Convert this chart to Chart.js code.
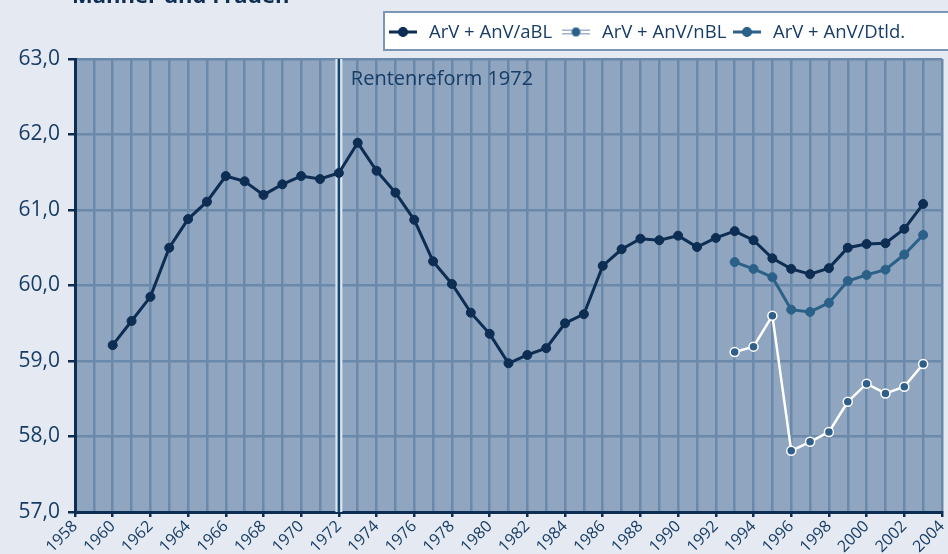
<!DOCTYPE html>
<html>
<head>
<meta charset="utf-8">
<script src="https://cdn.jsdelivr.net/npm/chart.js@4/dist/chart.umd.min.js"></script>
<style>
  html, body { margin: 0; padding: 0; background: #e5e9f1; overflow: hidden; }
  #wrap { width: 948px; height: 554px; position: relative; }
</style>
</head>
<body>
<div id="wrap"><canvas id="chart" width="948" height="554"></canvas></div>
<script>
  // Daten (Rentenzugangsalter, Männer und Frauen)
  const jahreABL = [1960,1961,1962,1963,1964,1965,1966,1967,1968,1969,1970,1971,1972,1973,1974,1975,1976,1977,1978,1979,1980,1981,1982,1983,1984,1985,1986,1987,1988,1989,1990,1991,1992,1993,1994,1995,1996,1997,1998,1999,2000,2001,2002,2003];
  const werteABL = [59.21,59.53,59.85,60.50,60.88,61.11,61.45,61.38,61.20,61.34,61.45,61.41,61.49,61.89,61.52,61.23,60.87,60.32,60.02,59.64,59.36,58.97,59.08,59.17,59.50,59.62,60.26,60.48,60.62,60.60,60.66,60.51,60.63,60.72,60.60,60.36,60.22,60.15,60.23,60.50,60.55,60.56,60.75,61.08];

  const jahreNeu = [1993,1994,1995,1996,1997,1998,1999,2000,2001,2002,2003];
  const werteNBL = [59.12,59.19,59.60,57.81,57.93,58.06,58.46,58.70,58.57,58.66,58.96];
  const werteDtld = [60.31,60.22,60.11,59.68,59.65,59.77,60.06,60.14,60.21,60.41,60.67];

  const yTicks = [57,58,59,60,61,62,63];
  const reformJahr = 1972;

  const dunkel = "#0d2d53";
  const mittel = "#2b6188";
  const schrift = "Open Sans, DejaVu Sans, sans-serif";

  const toPts = (xs, ys) => xs.map((x, i) => ({ x: x, y: ys[i] }));

  // Hintergrund Plotfläche + Titel + Reformlinie + Legende
  const deko = {
    id: "deko",
    beforeDraw(chart) {
      const { ctx, chartArea: a } = chart;
      ctx.save();
      ctx.fillStyle = "#8fa5c0";
      ctx.fillRect(a.left, a.top, a.right - a.left, a.bottom - a.top);
      // Titel (oben abgeschnitten)
      ctx.fillStyle = dunkel;
      ctx.font = "bold 22px " + schrift;
      ctx.textBaseline = "alphabetic";
      ctx.fillText("Männer und Frauen", 72, 3);
      ctx.restore();
    },
    beforeDatasetsDraw(chart) {
      const { ctx, chartArea: a, scales } = chart;
      const x = scales.x.getPixelForValue(reformJahr);
      ctx.save();
      ctx.strokeStyle = "#dde5ef";
      ctx.lineWidth = 7;
      ctx.beginPath(); ctx.moveTo(x, a.top); ctx.lineTo(x, a.bottom); ctx.stroke();
      ctx.strokeStyle = "#134670";
      ctx.lineWidth = 2.5;
      ctx.beginPath(); ctx.moveTo(x, a.top); ctx.lineTo(x, a.bottom); ctx.stroke();
      ctx.fillStyle = "#173d66";
      ctx.font = "20px " + schrift;
      ctx.textBaseline = "middle";
      ctx.fillText("Rentenreform 1972", x + 12, a.top + 20);
      ctx.restore();
    },
    afterDraw(chart) {
      const { ctx } = chart;
      ctx.save();
      // Legendenkasten
      ctx.fillStyle = "#ffffff";
      ctx.fillRect(384, 12, 580, 38);
      ctx.strokeStyle = "#7d96b6";
      ctx.lineWidth = 2;
      ctx.strokeRect(384, 12, 580, 38);
      const items = [
        { x: 389, label: "ArV + AnV/aBL", line: dunkel, fill: dunkel, border: dunkel, doppel: false },
        { x: 562, label: "ArV + AnV/nBL", line: "#ffffff", fill: mittel, border: "#ffffff", doppel: true },
        { x: 733, label: "ArV + AnV/Dtld.", line: mittel, fill: mittel, border: mittel, doppel: false }
      ];
      const cy = 32;
      ctx.font = "18.5px " + schrift;
      ctx.textBaseline = "middle";
      items.forEach(it => {
        if (it.doppel) {
          ctx.strokeStyle = "#9fb3cb";
          ctx.lineWidth = 5;
          ctx.beginPath(); ctx.moveTo(it.x, cy); ctx.lineTo(it.x + 28, cy); ctx.stroke();
          ctx.strokeStyle = "#ffffff";
          ctx.lineWidth = 2;
          ctx.beginPath(); ctx.moveTo(it.x, cy); ctx.lineTo(it.x + 28, cy); ctx.stroke();
        } else {
          ctx.strokeStyle = it.line;
          ctx.lineWidth = 3;
          ctx.beginPath(); ctx.moveTo(it.x, cy); ctx.lineTo(it.x + 28, cy); ctx.stroke();
        }
        ctx.beginPath();
        ctx.arc(it.x + 14, cy, 4.5, 0, Math.PI * 2);
        ctx.fillStyle = it.fill;
        ctx.fill();
        ctx.strokeStyle = it.doppel ? "#9fb3cb" : it.border;
        ctx.lineWidth = 1.2;
        ctx.stroke();
        ctx.fillStyle = "#173d66";
        ctx.fillText(it.label, it.x + 40, cy + 1);
      });
      ctx.restore();
    }
  };

  new Chart(document.getElementById("chart"), {
    type: "line",
    data: {
      datasets: [
        {
          label: "ArV + AnV/aBL",
          data: toPts(jahreABL, werteABL),
          borderColor: dunkel,
          borderWidth: 3,
          pointRadius: 4.5,
          pointBackgroundColor: dunkel,
          pointBorderColor: dunkel,
          pointBorderWidth: 1
        },
        {
          label: "ArV + AnV/Dtld.",
          data: toPts(jahreNeu, werteDtld),
          borderColor: mittel,
          borderWidth: 3,
          pointRadius: 4.5,
          pointBackgroundColor: mittel,
          pointBorderColor: mittel,
          pointBorderWidth: 1
        },
        {
          label: "ArV + AnV/nBL",
          data: toPts(jahreNeu, werteNBL),
          borderColor: "#ffffff",
          borderWidth: 2.5,
          pointRadius: 4.5,
          pointBackgroundColor: "#2f5e88",
          pointBorderColor: "#ffffff",
          pointBorderWidth: 1.5
        }
      ]
    },
    options: {
      responsive: false,
      animation: false,
      devicePixelRatio: 1,
      layout: { padding: { top: 59, right: 3, left: 0, bottom: 0 } },
      plugins: { legend: { display: false }, tooltip: { enabled: false } },
      scales: {
        x: {
          type: "linear",
          min: 1958,
          max: 2004,
          afterFit: s => { s.height = 42; s.paddingLeft = 0; s.paddingRight = 0; },
          border: { color: dunkel, width: 3 },
          grid: {
            color: "#6b8aab",
            lineWidth: 2.5,
            drawTicks: true,
            tickLength: 5,
            tickColor: c => (c.tick && c.tick.value % 2 === 0) ? dunkel : "rgba(0,0,0,0)",
            tickWidth: 2.5
          },
          ticks: {
            stepSize: 1,
            autoSkip: false,
            minRotation: 45,
            maxRotation: 45,
            padding: 0,
            color: "#173d66",
            font: { family: schrift, size: 16 },
            callback: v => (v % 2 === 0) ? String(v) : ""
          }
        },
        y: {
          min: 57,
          max: 63,
          afterFit: s => { s.width = 75; s.paddingTop = 0; s.paddingBottom = 0; },
          border: { color: dunkel, width: 3 },
          grid: {
            color: "#6b8aab",
            lineWidth: 2.5,
            tickLength: 7,
            tickColor: dunkel,
            tickWidth: 2.5
          },
          ticks: {
            stepSize: 1,
            padding: 8,
            color: "#173d66",
            font: { family: schrift, size: 21 },
            callback: v => yTicks.includes(v) ? v.toFixed(1).replace(".", ",") : ""
          }
        }
      }
    },
    plugins: [deko]
  });
</script>
</body>
</html>
